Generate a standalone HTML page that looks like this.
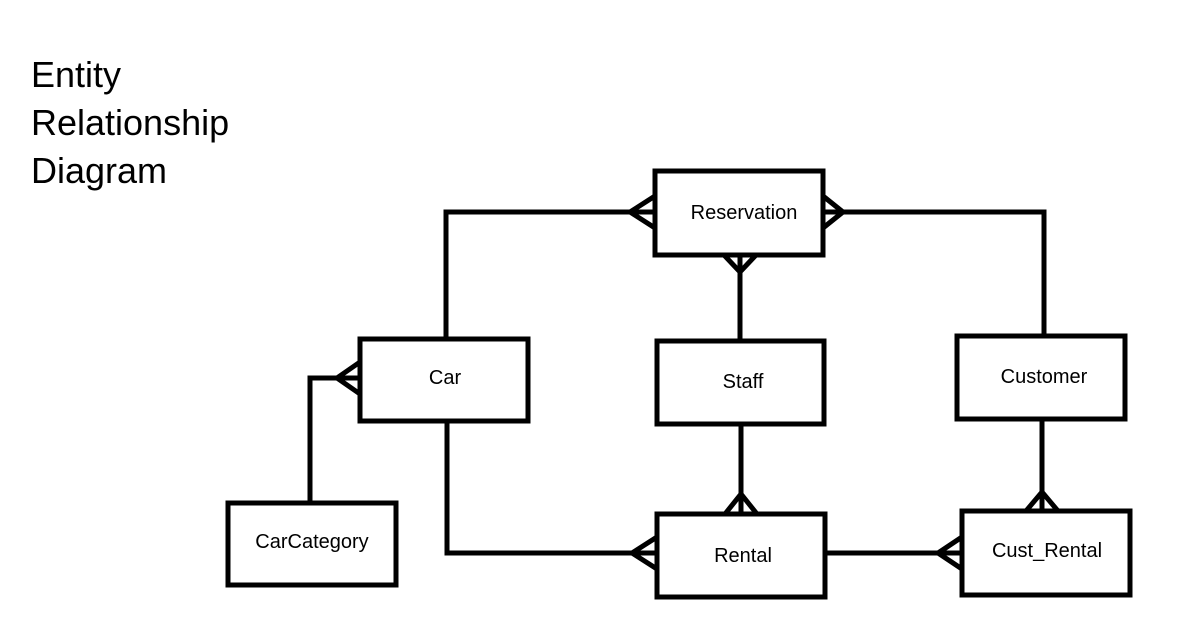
<!DOCTYPE html>
<html><head><meta charset="utf-8"><style>
html,body{margin:0;padding:0;background:#fff;}
svg{display:block}
text{font-family:"Liberation Sans",Arial,sans-serif;fill:#000}
</style></head><body>
<svg width="1177" height="639" viewBox="0 0 1177 639" xmlns="http://www.w3.org/2000/svg">
<rect width="1177" height="639" fill="#fff"/>
<g font-size="36">
<text x="31" y="87">Entity</text>
<text x="31" y="135">Relationship</text>
<text x="31" y="183">Diagram</text>
</g>
<g fill="none" stroke="#000" stroke-width="5" stroke-linejoin="miter">
<!-- connectors -->
<polyline points="446,337 446,212 655,212"/>
<polyline points="823,212 1044,212 1044,336"/>
<line x1="740" y1="255" x2="740" y2="341"/>
<line x1="741" y1="424" x2="741" y2="514"/>
<line x1="1042" y1="419" x2="1042" y2="511"/>
<polyline points="310,501 310,378 360,378"/>
<polyline points="447,423 447,553 657,553"/>
<line x1="825" y1="553" x2="962" y2="553"/>
<!-- crow's feet -->
<polyline points="655,196 630,212 655,228"/>
<polyline points="823,196 843,212 823,228"/>
<polyline points="724,255 740,272 756,255"/>
<polyline points="725,514 741,494 757,514"/>
<polyline points="1026,511 1042,492 1058,511"/>
<polyline points="360,362 337,378 360,394"/>
<polyline points="657,537 632,553 657,569"/>
<polyline points="962,537 938,553 962,569"/>
<!-- boxes -->
<rect x="655" y="171" width="168" height="84" fill="#fff"/>
<rect x="360" y="339" width="168" height="82" fill="#fff"/>
<rect x="657" y="341" width="167" height="83" fill="#fff"/>
<rect x="957" y="336" width="168" height="83" fill="#fff"/>
<rect x="228" y="503" width="168" height="82" fill="#fff"/>
<rect x="657" y="514" width="168" height="83" fill="#fff"/>
<rect x="962" y="511" width="168" height="84" fill="#fff"/>
</g>
<g font-size="20" text-anchor="middle">
<text x="744" y="219">Reservation</text>
<text x="445" y="384">Car</text>
<text x="743" y="388">Staff</text>
<text x="1044" y="383">Customer</text>
<text x="312" y="548">CarCategory</text>
<text x="743" y="562">Rental</text>
<text x="1047" y="557">Cust_Rental</text>
</g>
</svg>
</body></html>
